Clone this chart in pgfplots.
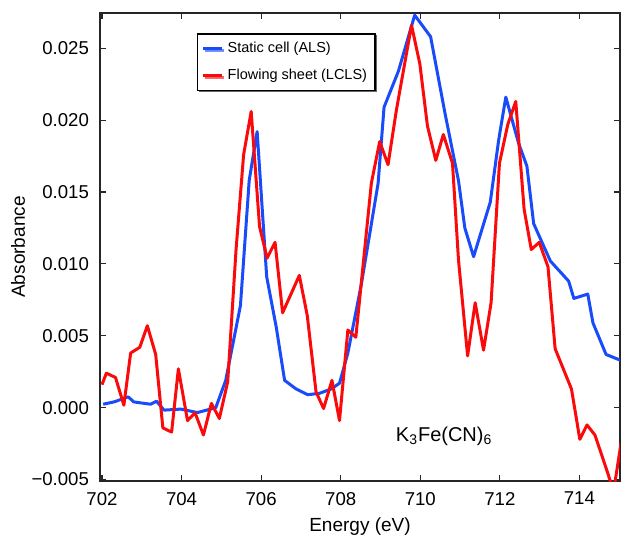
\documentclass[border=0pt]{standalone}
\usepackage{pgfplots}
\pgfplotsset{compat=1.18}
\usepackage{fontspec}
\setmainfont{Liberation Sans}
\usetikzlibrary{shadows}
\definecolor{alsblue}{RGB}{25,75,250}
\definecolor{lclsred}{RGB}{250,10,10}
\begin{document}
\begin{tikzpicture}
\begin{axis}[
  scale only axis, width=260pt, height=234pt,
  xmin=701.95, xmax=715.02, ymin=-0.0051, ymax=0.02745,
  xtick={702,704,706,708,710,712,714},
  xticklabels={702,704,706,708,710,712,714},
  ytick={-0.005,0,0.005,0.01,0.015,0.02,0.025},
  yticklabels={−0.005,0.000,0.005,0.010,0.015,0.020,0.025},
  scaled y ticks=false,
  tick align=inside, major tick length=3pt,
  tick style={black!85, line width=0.6pt},
  axis line style={black!85, line width=0.8pt},
  ticklabel style={font=\fontsize{9.3}{11}\selectfont},
  yticklabel style={xshift=-2pt},
  xticklabel style={yshift=-2pt},
  xlabel={Energy (eV)}, ylabel={Absorbance},
  label style={font=\fontsize{9.5}{11}\selectfont},
  xlabel style={at={(axis description cs:0.5,-0.097)}, anchor=center},
  ylabel style={at={(axis description cs:-0.1577,0.5)}, anchor=center},
  legend style={at={(0.1865,0.957)}, anchor=north west, draw=black, line width=0.7pt,
    fill=white, font=\fontsize{7.25}{8.5}\selectfont, row sep=2.5pt,
    inner xsep=2pt, inner ysep=2.2pt, cells={anchor=west},
    drop shadow={shadow xshift=0.8pt, shadow yshift=-0.8pt, opacity=0.6, fill=black}},
  legend image code/.code={\draw[#1] (1.5pt,0pt) -- (11pt,0pt);},
]
\addplot[alsblue, line width=1.5pt, line join=round] table {
702.03 0.00024
702.30 0.0004
702.66 0.00075
702.80 0.0004
703.22 0.00024
703.37 0.00045
703.56 -0.00017
703.98 -0.0001
704.40 -0.00034
704.86 0.0
705.11 0.0019
705.48 0.0071
705.70 0.0158
705.90 0.0192
706.14 0.0091
706.38 0.0056
706.59 0.0019
706.88 0.0013
707.17 0.0009
707.47 0.0010
707.76 0.0013
707.97 0.0017
708.18 0.0038
708.52 0.0086
708.94 0.0156
709.09 0.0209
709.45 0.0234
709.86 0.0273
710.26 0.0258
710.62 0.0205
710.96 0.0158
711.12 0.0125
711.34 0.0105
711.76 0.0143
711.97 0.0186
712.15 0.0216
712.47 0.0184
712.68 0.0168
712.85 0.0128
713.27 0.0102
713.73 0.0088
713.86 0.0076
714.21 0.0079
714.34 0.0059
714.67 0.0037
715.03 0.0033
};
\addlegendentry{Static cell (ALS)}
\addplot[lclsred, line width=1.5pt, line join=round] table {
702.00 0.0016
702.11 0.0024
702.34 0.0021
702.55 0.00017
702.72 0.0038
702.95 0.0042
703.14 0.0057
703.35 0.0037
703.53 -0.0014
703.75 -0.0017
703.92 0.0027
704.15 -0.0009
704.34 -0.00036
704.55 -0.0019
704.75 0.0003
704.95 -0.00075
705.16 0.0018
705.37 0.0110
705.56 0.0176
705.75 0.0206
705.96 0.0126
706.15 0.0104
706.35 0.0115
706.54 0.0066
706.96 0.0092
707.16 0.0064
707.38 0.0011
707.57 -0.00006
707.78 0.0019
707.97 -0.0009
708.18 0.0054
708.38 0.0049
708.77 0.0156
708.98 0.0185
709.19 0.0169
709.40 0.0207
709.78 0.0266
709.99 0.0239
710.18 0.0196
710.39 0.0172
710.58 0.0190
710.81 0.0170
710.96 0.0103
711.19 0.0036
711.38 0.0073
711.59 0.0040
711.78 0.0073
711.99 0.0170
712.20 0.0197
712.40 0.0213
712.61 0.0138
712.79 0.0110
712.99 0.0115
713.21 0.0098
713.39 0.0041
713.80 0.0013
714.01 -0.0022
714.19 -0.0012
714.39 -0.0019
714.61 -0.0037
714.86 -0.0058
715.05 -0.0024
};
\addlegendentry{Flowing sheet (LCLS)}
\node[font=\fontsize{10}{12}\selectfont] at (axis cs:710.6,-0.0020) {K\textsubscript{3}Fe(CN)\textsubscript{6}};
\end{axis}
\path (current axis.south west) ++(-50pt,-28.5pt) ++(311pt,269pt);
\end{tikzpicture}
\end{document}
